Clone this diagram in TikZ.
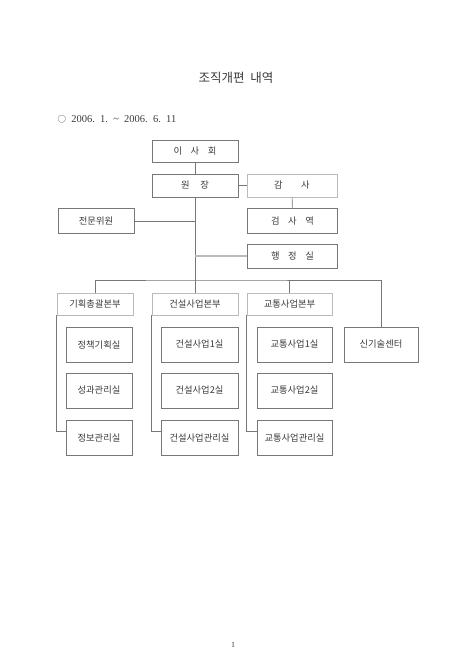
\documentclass[tikz,border=0pt]{standalone}
\usepackage{fontspec}
\setmainfont{Liberation Serif}
\newfontfamily\kr{Noto Sans CJK KR}
\usepackage{xcolor}
\usetikzlibrary{positioning, calc}
\definecolor{linegray}{HTML}{777777}
\definecolor{lightgray}{HTML}{BBBBBB}
\definecolor{textgray}{HTML}{3A3A3A}
\newcommand{\gap}[1]{\hspace{#1pt}}

\begin{document}
\begin{tikzpicture}[
    x=1pt, y=-1pt,
    font=\kr\fontsize{9.3}{11}\selectfont,
    box/.style={rectangle, draw=linegray, line width=0.6pt, text=textgray,
                inner sep=0pt, align=center},
    lbox/.style={box, draw=lightgray},
    conn/.style={draw=linegray, line width=0.6pt},
    lconn/.style={draw=lightgray, line width=1.4pt},
    unit/.style={box, minimum height=35pt}
]
\useasboundingbox (0,0) rectangle (465,657);
\node[font=\kr\fontsize{12.5}{14}\selectfont, text=textgray] (title) at (236,77.5) {조직개편\ \ 내역};
\node[anchor=west, text=textgray, font=\fontsize{10.5}{12}\selectfont] (period) at (54,119)
    {{\kr\fontsize{8.5}{10}\selectfont ○}\ \ 2006.\ \ 1.\ \ \textasciitilde\ \ 2006.\ \ 6.\ \ 11};
% top of the chart
\node[box]  (isahoe)  at (195,151)   [minimum width=86pt, minimum height=22pt] {이\gap{8.5}사\gap{8.5}회};
\node[box]  (wonjang) at (195,185.5) [minimum width=86pt, minimum height=23pt] {원\gap{10.5}장};
\node[lbox] (gamsa)   at (292,185.5) [minimum width=90pt, minimum height=23pt] {감\gap{18.5}사};
\node[box]  (geomsa)  at (292.5,220.8) [minimum width=90pt, minimum height=25pt] {검\gap{8.5}사\gap{8.5}역};
\node[box]  (jeonmun) at (96,220.8)  [minimum width=76pt, minimum height=25pt] {전문위원};
\node[box]  (haengjeong) at (292.5,256) [minimum width=90pt, minimum height=24pt] {행\gap{8.5}정\gap{8.5}실};
\coordinate (bus) at (195,280);
\draw[conn] (isahoe) -- (wonjang);
\draw[conn] (wonjang) -- (gamsa);
\draw[conn] (gamsa) -- (geomsa);
\draw[conn] (wonjang.south) -- (bus);
\draw[conn] (jeonmun.east) -- (jeonmun.east -| bus);
\draw[lconn] (haengjeong.west) -- (haengjeong.west -| bus);
% headquarters
\node[lbox] (gihoek)   at (95,304.3)    [minimum width=76pt, minimum height=21.5pt] {기획총괄본부};
\node[lbox] (geonseol) at (195,304.3)   [minimum width=86pt, minimum height=21.5pt] {건설사업본부};
\node[lbox] (gyotong)  at (289.5,304.3) [minimum width=85pt, minimum height=21.5pt] {교통사업본부};
% offices
\node[unit] (jeongchaek) at (99,344.5)    [minimum width=66pt] {정책기획실};
\node[unit] (seonggwa)   at (99,390.5)    [minimum width=66pt] {성과관리실};
\node[unit] (jeongbo)    at (99,438)      [minimum width=66pt] {정보관리실};
\node[unit] (geon1)      at (199.5,344.5) [minimum width=77pt] {건설사업1실};
\node[unit] (geon2)      at (199.5,390.5) [minimum width=77pt] {건설사업2실};
\node[unit] (geonm)      at (199.5,438)   [minimum width=77pt] {건설사업관리실};
\node[unit] (gyo1)       at (294.5,344.5) [minimum width=75pt] {교통사업1실};
\node[unit] (gyo2)       at (294.5,390.5) [minimum width=75pt] {교통사업2실};
\node[unit] (gyom)       at (294.5,438)   [minimum width=75pt] {교통사업관리실};
\node[unit] (singisul)   at (381,344.5)   [minimum width=74pt] {신기술센터};
\draw[conn] (gihoek.north) |- (bus) -| (singisul.north);
\draw[conn] (geonseol.north) -- (geonseol.north |- bus);
\draw[conn] (gyotong.north) -- (gyotong.north |- bus);
\foreach \hq/\a/\b/\c in {gihoek/jeongchaek/seonggwa/jeongbo,
                          geonseol/geon1/geon2/geonm,
                          gyotong/gyo1/gyo2/gyom}{
  \draw[conn] (\hq.south west) |- ($(\c.west)+(0,6.5pt)$);
  \draw[conn] ($(\a.west)+(0,6.5pt)$) -- ($(\a.west)+(0,6.5pt)$ -| \hq.south west);
  \draw[conn] ($(\b.west)+(0,6.5pt)$) -- ($(\b.west)+(0,6.5pt)$ -| \hq.south west);
}
\node[font=\fontsize{8}{9}\selectfont, text=textgray] (page) at (233,645) {1};
\end{tikzpicture}
\end{document}
